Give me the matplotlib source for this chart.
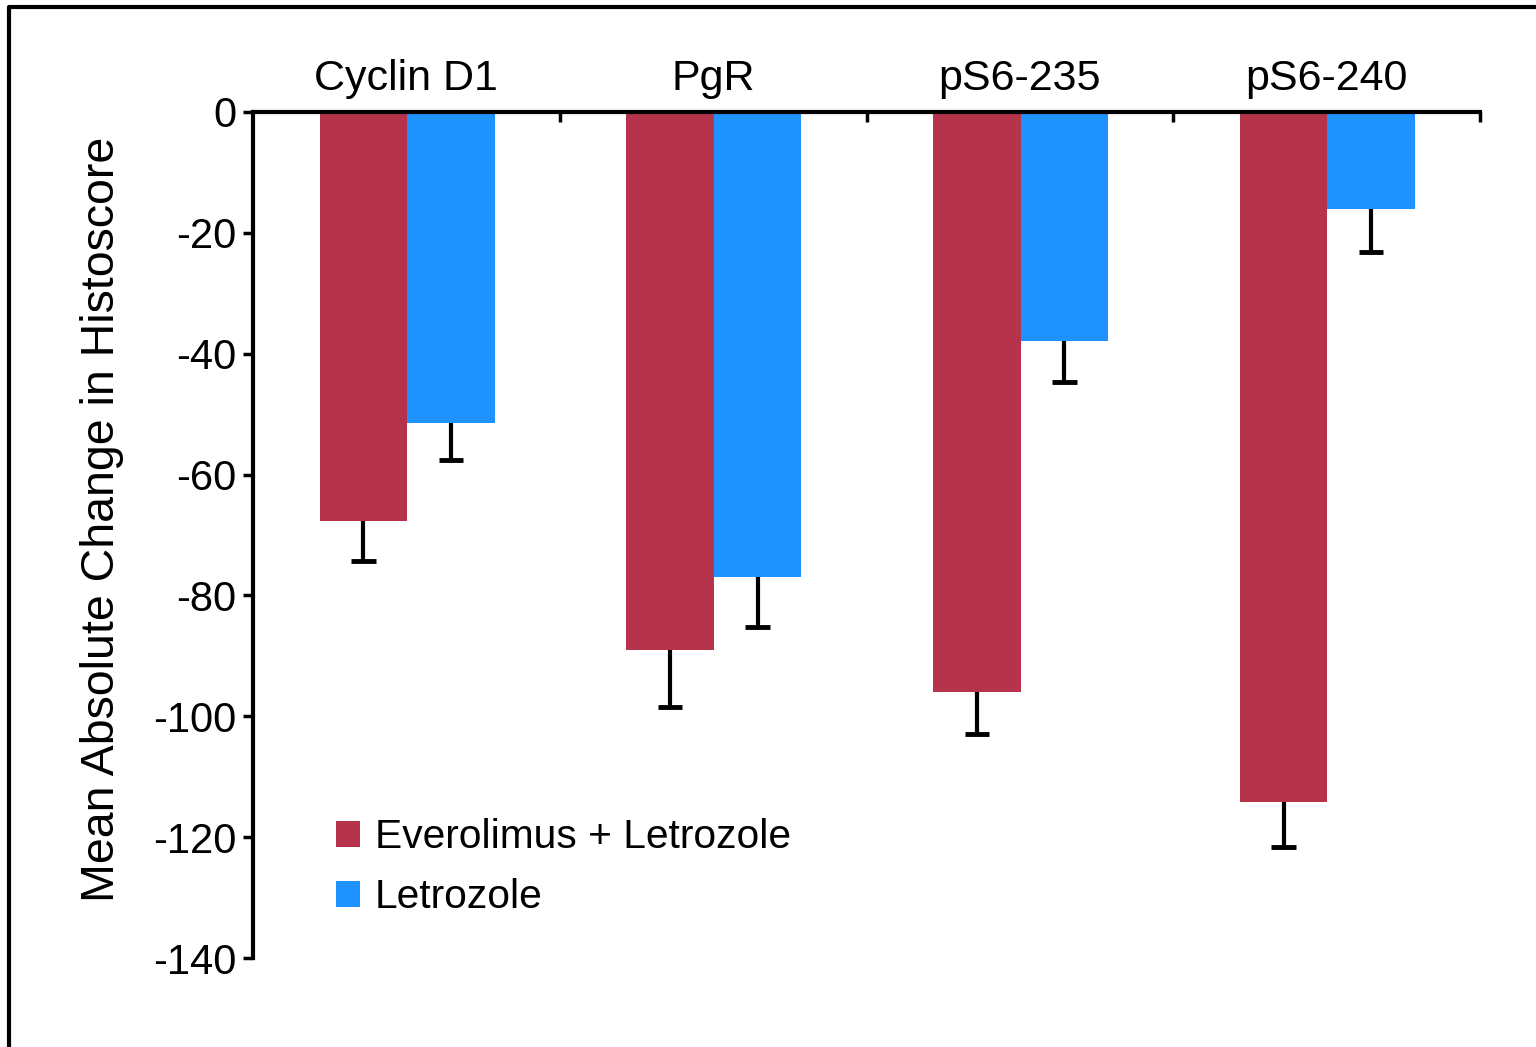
import numpy as np
import matplotlib.pyplot as plt
from matplotlib.lines import Line2D

categories = ['Cyclin D1', 'PgR', 'pS6-235', 'pS6-240']
combo = [-67.7, -89.0, -95.9, -114.2]
combo_err = [6.6, 9.4, 7.1, 7.4]
letro = [-51.5, -77.0, -37.9, -16.0]
letro_err = [6.1, 8.2, 6.8, 7.2]
yticks = [0, -20, -40, -60, -80, -100, -120, -140]

red = '#B5344C'
blue = '#1E93FF'

tick_font = ['Liberation Sans Narrow', 'Liberation Sans', 'DejaVu Sans']
text_font = ['Liberation Sans', 'DejaVu Sans']

fig = plt.figure(figsize=(15.36, 10.47), dpi=100)
ax = fig.add_axes([253/1536, 1-958/1047, (1480-253)/1536, (958-112)/1047])

x = np.arange(len(categories))
w = 0.285
xr = x + 0.36
xb = x + 0.645
ax.bar(xr, combo, w, color=red, label='Everolimus + Letrozole', zorder=2)
ax.bar(xb, letro, w, color=blue, label='Letrozole', zorder=2)

# one-sided error bars (downward only)
low_r = np.array(combo) - np.array(combo_err)
low_b = np.array(letro) - np.array(letro_err)
cw = 0.04
ax.vlines(xr, combo, low_r, color='k', lw=3, zorder=3)
ax.hlines(low_r, xr - cw, xr + cw, color='k', lw=3.5, zorder=3)
ax.vlines(xb, letro, low_b, color='k', lw=3, zorder=3)
ax.hlines(low_b, xb - cw, xb + cw, color='k', lw=3.5, zorder=3)

ax.set_xlim(0, 4)
ax.set_ylim(-140, 0)
ax.spines['bottom'].set_visible(False)
ax.spines['right'].set_visible(False)
ax.spines['top'].set_linewidth(3)
ax.spines['left'].set_linewidth(3)
ax.spines['top'].set_zorder(4)

ax.xaxis.tick_top()
ax.set_xticks([1, 2, 3, 4])
ax.set_xticklabels([])
ax.tick_params(axis='x', which='major', direction='in', length=7, width=2.5)
ax.set_xticks(x + 0.5, minor=True)
ax.set_xticklabels(categories, minor=True, fontsize=31, family=text_font)
ax.tick_params(axis='x', which='minor', length=0, pad=9)

ax.set_yticks(yticks)
ax.set_yticklabels([str(t) for t in yticks], fontsize=30, family=tick_font)
ax.tick_params(axis='y', direction='out', length=7, width=2.5, pad=5)

ax.set_ylabel('Mean Absolute Change in Histoscore', fontsize=33.5,
              family=text_font)
ax.yaxis.set_label_coords(-0.105, 0.518)

leg = ax.legend(loc='upper left', bbox_to_anchor=(336/1536, 1-818/1047),
                bbox_transform=fig.transFigure, frameon=False,
                borderpad=0, borderaxespad=0, handlelength=0.6,
                handleheight=0.6, handletextpad=0.35, labelspacing=0.55,
                prop={'family': text_font, 'size': 29.3})

# outer frame line (left and top of the panel)
fig.add_artist(Line2D([9/1536, 9/1536, 1.0], [0.0, 1-7/1047, 1-7/1047],
                      transform=fig.transFigure, color='k', lw=3))

fig.savefig('out.png', dpi=100)
